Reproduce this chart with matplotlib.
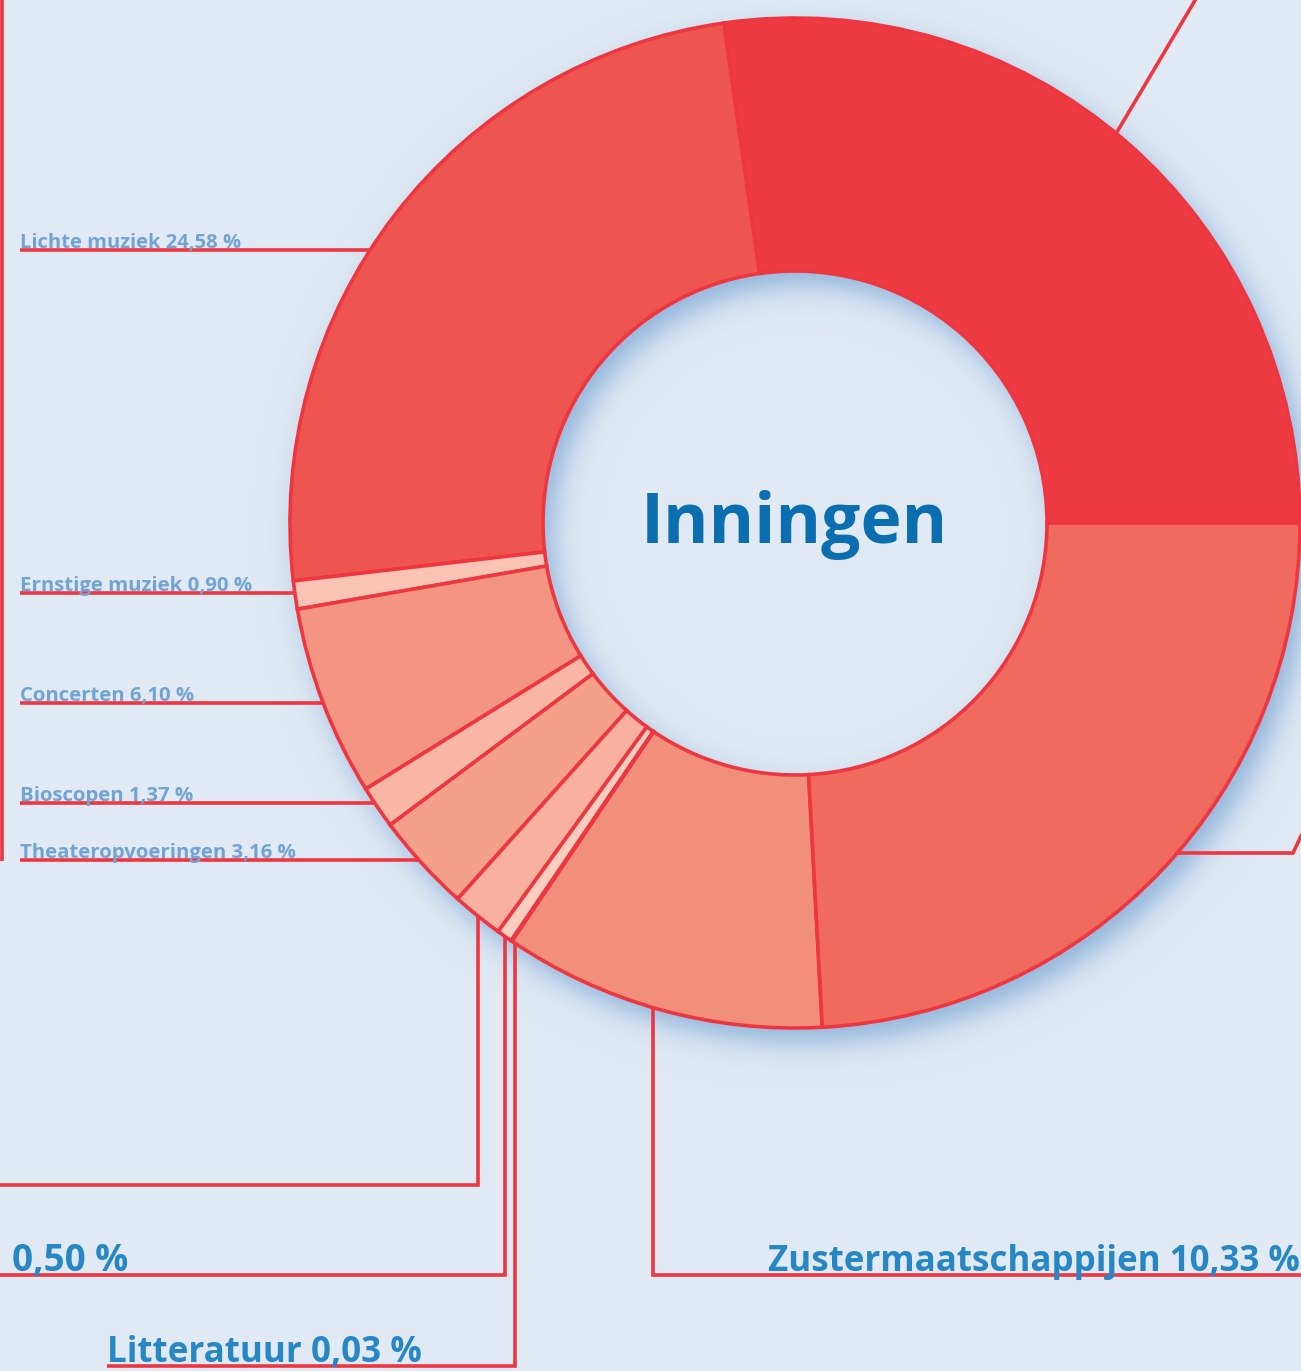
import numpy as np
import matplotlib
matplotlib.use("Agg")
import matplotlib.pyplot as plt
from matplotlib.colors import to_rgb

# ---------------- data ----------------
names = ["", "Lichte muziek", "Ernstige muziek", "Concerten", "Bioscopen",
         "Theateropvoeringen", "", "", "Litteratuur", "Zustermaatschappijen", ""]
values = [27.25, 24.58, 0.90, 6.10, 1.37, 3.16, 1.64, 0.50, 0.03, 10.33, 24.14]
colors = ["#EE3A43", "#EF5550", "#FBC3B3", "#F49583", "#F9B6A5", "#F5A08B",
          "#F9B09E", "#FBCDBF", "#FBC3B3", "#F28E7C", "#F16A5E"]
center_title = "Inningen"

# ---------------- layout (pixels) ----------------
W, H = 1301, 1371
CX, CY = 795, 523          # centre, y from top
R_OUT, R_IN = 505, 252
BG = "#E0E9F4"
EDGE = "#EE3640"
SMALL_COL = "#72A4D3"
BIG_COL = "#2787C5"
TITLE_COL = "#0B6EB1"
LW = 2.6
FONT = "Open Sans"

def Y(py):
    return H - py

fig = plt.figure(figsize=(W / 100, H / 100), dpi=100)
fig.patch.set_facecolor(BG)
ax = fig.add_axes([0, 0, 1, 1])
ax.set_facecolor(BG)

# ---------------- soft drop shadow ----------------
xx, yy = np.meshgrid(np.arange(W) + 0.5, np.arange(H) + 0.5)
sx, sy = CX + 10, CY + 14
r = np.hypot(xx - sx, yy - sy)
d = np.maximum(r - R_OUT, R_IN - r)
sig = 15.0
alpha = 0.95 / (1 + np.exp(1.7 * d / sig))
rgba = np.zeros((H, W, 4))
rgba[..., :3] = to_rgb("#8AAFD9")
rgba[..., 3] = alpha
ax.imshow(rgba, extent=(0, W, 0, H), origin="upper", zorder=0, interpolation="bilinear")

# ---------------- donut ----------------
wedges, _ = ax.pie(values, colors=colors, startangle=0, counterclock=True,
                   center=(CX, Y(CY)), radius=R_OUT, frame=True,
                   wedgeprops=dict(width=R_OUT - R_IN, edgecolor=EDGE, linewidth=LW))
for w in wedges:
    w.set_zorder(3)

ax.set_xlim(0, W)
ax.set_ylim(0, H)
ax.set_aspect("equal")
ax.axis("off")

renderer = fig.canvas.get_renderer()

def fit_text(x, py, s, width, color, ha="left"):
    t = ax.text(x, Y(py), s, fontsize=10, color=color, family=FONT,
                fontweight="bold", ha=ha, va="baseline", zorder=5)
    bb = t.get_window_extent(renderer)
    t.set_fontsize(10 * width / bb.width)
    return t

def circle_x_left(py):
    return CX - np.sqrt(R_OUT ** 2 - (py - CY) ** 2)

def circle_y_bottom(px):
    return CY + np.sqrt(R_OUT ** 2 - (px - CX) ** 2)

def line(xs, pys, z=2):
    ax.plot(xs, [Y(p) for p in pys], color=EDGE, lw=LW, solid_capstyle="butt",
            solid_joinstyle="miter", zorder=z)

def label(i):
    v = f"{values[i]:.2f}".replace(".", ",") + " %"
    return (names[i] + " " + v) if names[i] else v

# left vertical rule
line([1.8, 1.8], [0, 861])

# small labels on the left: (index, underline y, text width)
small = [(1, 250, 221), (2, 593, 232), (3, 703, 174), (4, 803, 174), (5, 860, 277)]
for i, py, wdt in small:
    fit_text(20, py - 2, label(i), wdt, SMALL_COL)
    line([20, circle_x_left(py) + 4], [py, py])

# bottom leaders
x1 = 478
line([x1, x1, 0], [circle_y_bottom(x1) - 4, 1185, 1185])
x2 = 505
line([x2, x2, 0], [circle_y_bottom(x2) - 4, 1275, 1275])
fit_text(12, 1271, label(7), 116, BIG_COL)
x3 = 515
line([x3, x3, 107], [circle_y_bottom(x3) - 4, 1366, 1366])
fit_text(107, 1362, label(8), 316, BIG_COL)
x4 = 653
line([x4, x4, W + 5], [circle_y_bottom(x4) - 4, 1275, 1275])
fit_text(768, 1271, label(9), 532, BIG_COL)

# right leader (last slice)
py_r = 853
xr = CX + np.sqrt(R_OUT ** 2 - (py_r - CY) ** 2)
line([xr - 4, 1293, 1310], [py_r, py_r, py_r - 36])

# top-right leader (first slice)
a = np.deg2rad(50.5)
line([CX + R_OUT * np.cos(a), 1200], [CY - R_OUT * np.sin(a), -8])

# centre title
fit_text(CX - 1, 543, center_title, 308, TITLE_COL, ha="center")

fig.savefig("out.png", dpi=100, facecolor=BG)
